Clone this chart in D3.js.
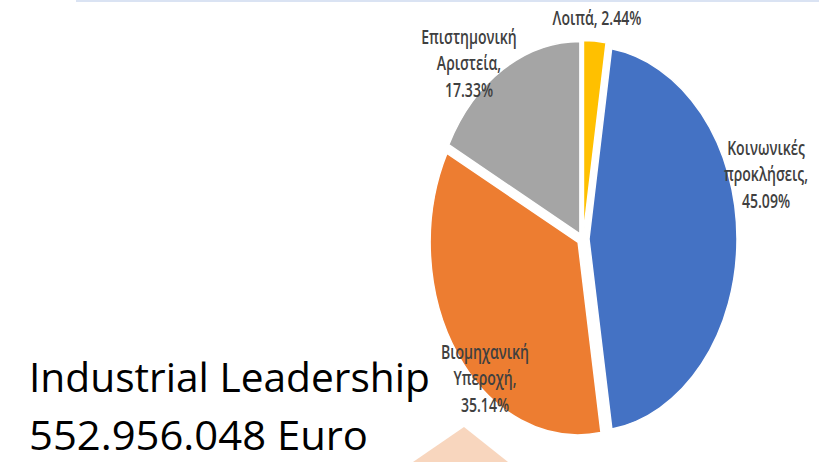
<!DOCTYPE html>
<html>
<head>
<meta charset="utf-8">
<script src="https://cdn.jsdelivr.net/npm/d3@7"></script>
<style>
body { margin:0; background:#fff; }
svg { display:block; }
</style>
</head>
<body>
<script>
var labels = ["Λοιπά", "Κοινωνικές προκλήσεις", "Βιομηχανική Υπεροχή", "Επιστημονική Αριστεία"];
var shares = [2.44, 45.09, 35.14, 17.33];
var colors = ["#ffc000", "#4472c4", "#ed7d31", "#a5a5a5"];
var titleLines = ["Industrial Leadership", "552.956.048 Euro"];

var W = 819, H = 462;
var svg = d3.select("body").append("svg")
    .attr("width", W)
    .attr("height", H)
    .attr("viewBox", "0 0 " + W + " " + H);

// slide decoration
svg.append("rect")
    .attr("x", 76).attr("y", 0)
    .attr("width", 743).attr("height", 2)
    .attr("fill", "#dae3f3");

svg.append("path")
    .attr("d", "M464 427 L413 462 L508 462 Z")
    .attr("fill", "#f8d6be");

var cx = 583, cy = 239, r = 148, sy = 1.3, explode = 6;

var pie = d3.pie().sort(null).value(function(d){ return d; });
var arcs = pie(shares);
var arc = d3.arc().innerRadius(0).outerRadius(r);

var g = svg.append("g")
    .attr("transform", "translate(" + cx + "," + cy + ") scale(1," + sy + ")");

g.selectAll("path.slice").data(arcs)
    .enter().append("path")
    .attr("class", "slice")
    .attr("fill", function(d, i){ return colors[i]; })
    .attr("stroke", "#fff")
    .attr("stroke-width", 1.5)
    .attr("vector-effect", "non-scaling-stroke")
    .attr("transform", function(d){
        var a = (d.startAngle + d.endAngle) / 2;
        return "translate(" + (Math.sin(a) * explode) + "," + (-Math.cos(a) * explode / sy) + ")";
    })
    .attr("d", arc);

// data labels (condensed look via horizontal scale)
var labelPos = [
    { x: 597, y: 18, lines: [labels[0] + ", " + shares[0].toFixed(2) + "%"] },
    { x: 766, y: 148, lines: ["Κοινωνικές", "προκλήσεις,", shares[1].toFixed(2) + "%"] },
    { x: 485, y: 352, lines: ["Βιομηχανική", "Υπεροχή,", shares[2].toFixed(2) + "%"] },
    { x: 469, y: 37, lines: ["Επιστημονική", "Αριστεία,", shares[3].toFixed(2) + "%"] }
];

labelPos.forEach(function(p){
    var t = svg.append("text")
        .attr("transform", "translate(" + p.x + "," + p.y + ") scale(0.74,1)")
        .attr("text-anchor", "middle")
        .attr("font-family", "'Open Sans', 'Noto Sans', sans-serif")
        .attr("font-size", 19)
        .attr("font-weight", 600)
        .attr("fill", "#404040");
    p.lines.forEach(function(line, i){
        t.append("tspan")
            .attr("x", 0)
            .attr("y", i * 26.5)
            .attr("dy", "0.35em")
            .text(line);
    });
});

// big title text
var title = svg.append("g")
    .attr("font-family", "'Open Sans', 'Noto Sans', sans-serif")
    .attr("font-size", 41)
    .attr("fill", "#000");
title.append("text")
    .attr("x", 29).attr("y", 392)
    .attr("textLength", 401)
    .attr("lengthAdjust", "spacingAndGlyphs")
    .text(titleLines[0]);
title.append("text")
    .attr("x", 29).attr("y", 450)
    .attr("textLength", 339)
    .attr("lengthAdjust", "spacingAndGlyphs")
    .text(titleLines[1]);
</script>
</body>
</html>
